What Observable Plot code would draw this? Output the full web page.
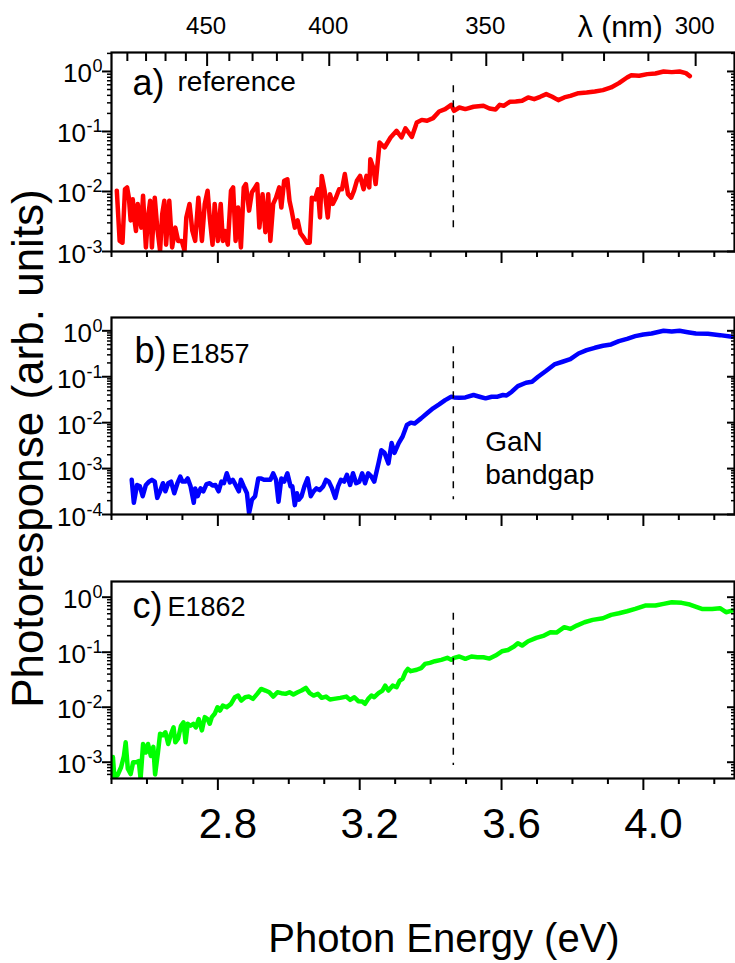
<!DOCTYPE html>
<html><head><meta charset="utf-8">
<script src="https://cdn.jsdelivr.net/npm/d3@7"></script>
<script src="https://cdn.jsdelivr.net/npm/@observablehq/plot@0.6"></script>
<style>
html,body{margin:0;padding:0;background:#fff;}
#chart{position:relative;width:735px;height:963px;overflow:hidden;background:#fff;}
</style></head>
<body><div id="chart"></div>
<script>
// ---------- data ----------
const energyA = [2.515,2.523,2.531,2.538,2.544,2.549,2.554,2.560,2.565,2.569,2.574,2.580,2.584,2.589,2.597,2.603,2.609,2.614,2.622,2.629,2.637,2.643,2.649,2.654,2.663,2.671,2.680,2.688,2.698,2.706,2.711,2.720,2.728,2.736,2.745,2.755,2.763,2.771,2.777,2.785,2.791,2.800,2.808,2.814,2.820,2.828,2.837,2.843,2.850,2.857,2.865,2.873,2.879,2.888,2.896,2.905,2.911,2.917,2.926,2.934,2.942,2.948,2.956,2.964,2.973,2.979,2.987,2.996,3.002,3.008,3.017,3.025,3.033,3.042,3.051,3.059,3.065,3.074,3.082,3.088,3.093,3.101,3.110,3.116,3.124,3.133,3.142,3.150,3.158,3.167,3.176,3.184,3.192,3.201,3.211,3.219,3.227,3.230,3.238,3.245,3.256,3.270,3.287,3.304,3.318,3.329,3.347,3.361,3.375,3.390,3.407,3.424,3.441,3.458,3.466,3.481,3.498,3.521,3.549,3.566,3.583,3.595,3.606,3.623,3.640,3.658,3.675,3.692,3.709,3.726,3.743,3.760,3.777,3.794,3.817,3.840,3.863,3.886,3.909,3.931,3.954,3.966,3.988,4.011,4.034,4.057,4.080,4.102,4.120,4.131];
const respA = [0.0103,0.0015,0.0014,0.0109,0.0117,0.0079,0.0033,0.0074,0.0033,0.0022,0.0062,0.0033,0.0025,0.0085,0.00117,0.0037,0.0070,0.00117,0.0079,0.0025,0.00103,0.0042,0.0070,0.0013,0.0070,0.00117,0.0025,0.0015,0.0015,0.00103,0.0037,0.0062,0.0022,0.0015,0.0079,0.0015,0.0062,0.0103,0.0037,0.0013,0.0062,0.0015,0.0062,0.0015,0.0022,0.0013,0.0103,0.0117,0.0015,0.0054,0.00117,0.0117,0.0133,0.0048,0.0097,0.0117,0.0133,0.0025,0.0090,0.0021,0.0090,0.0015,0.0062,0.0079,0.0117,0.0054,0.0151,0.0160,0.0070,0.0048,0.0025,0.0033,0.0020,0.0017,0.0014,0.0014,0.0079,0.0074,0.0109,0.0037,0.0182,0.0103,0.0037,0.0090,0.0062,0.0079,0.0109,0.0109,0.0195,0.0090,0.0079,0.0103,0.0151,0.0182,0.0109,0.0182,0.0117,0.0346,0.0251,0.0133,0.0656,0.0541,0.0794,0.1026,0.0794,0.113,0.081,0.141,0.156,0.151,0.167,0.215,0.236,0.278,0.221,0.251,0.236,0.258,0.268,0.242,0.232,0.278,0.268,0.312,0.316,0.325,0.369,0.346,0.378,0.419,0.378,0.333,0.369,0.393,0.435,0.446,0.464,0.489,0.541,0.639,0.794,0.868,0.847,0.903,0.926,1.0,0.975,1.0,0.938,0.836];

const energyB = [2.557,2.563,2.572,2.580,2.588,2.597,2.606,2.614,2.622,2.629,2.637,2.645,2.652,2.660,2.668,2.677,2.686,2.694,2.700,2.708,2.715,2.723,2.732,2.736,2.743,2.751,2.759,2.768,2.777,2.785,2.793,2.802,2.810,2.817,2.825,2.834,2.842,2.850,2.859,2.865,2.873,2.882,2.888,2.896,2.905,2.914,2.922,2.930,2.939,2.948,2.956,2.964,2.971,2.979,2.987,2.996,3.005,3.010,3.017,3.023,3.028,3.036,3.044,3.053,3.062,3.070,3.078,3.087,3.097,3.105,3.113,3.122,3.131,3.139,3.147,3.156,3.164,3.173,3.181,3.190,3.199,3.207,3.215,3.224,3.233,3.241,3.253,3.261,3.270,3.281,3.290,3.298,3.310,3.321,3.333,3.344,3.355,3.373,3.390,3.407,3.424,3.441,3.458,3.466,3.481,3.498,3.521,3.538,3.555,3.572,3.589,3.604,3.614,3.629,3.646,3.669,3.686,3.703,3.726,3.749,3.772,3.794,3.817,3.840,3.863,3.886,3.909,3.931,3.954,3.977,4.000,4.023,4.057,4.080,4.102,4.125,4.148,4.182,4.216,4.250];
const respB = [5.7e-4,1.8e-4,4.4e-4,4.1e-4,2.5e-4,4.4e-4,5.2e-4,5.7e-4,5.2e-4,2.3e-4,3.2e-4,4.8e-4,3.2e-4,4.8e-4,5.2e-4,2.9e-4,4.8e-4,6.7e-4,5.2e-4,5.2e-4,6.1e-4,4.1e-4,1.8e-4,3.7e-4,2.5e-4,3.7e-4,3.2e-4,4.6e-4,4.8e-4,4.3e-4,4.4e-4,3.2e-4,5.2e-4,4.8e-4,7.9e-4,5.0e-4,5.7e-4,4.4e-4,3.2e-4,5.7e-4,4.1e-4,2.9e-4,1.07e-4,2.1e-4,2.5e-4,6.1e-4,6.1e-4,5.7e-4,5.7e-4,5.7e-4,7.9e-4,5.7e-4,1.9e-4,6.1e-4,5.2e-4,7.9e-4,4.1e-4,4.1e-4,1.6e-4,2.9e-4,2.1e-4,2.5e-4,4.1e-4,6.1e-4,2.5e-4,3.2e-4,3.7e-4,3.4e-4,4.1e-4,5.7e-4,5.2e-4,3.7e-4,2.3e-4,4.1e-4,5.7e-4,5.2e-4,7.3e-4,4.4e-4,7.9e-4,4.8e-4,5.2e-4,7.9e-4,4.8e-4,7.9e-4,6.7e-4,5.2e-4,1.3e-3,2.5e-3,2.2e-3,1.3e-3,3.6e-3,2.2e-3,3.6e-3,5.0e-3,8.9e-3,0.010,0.0096,0.0124,0.016,0.0205,0.025,0.031,0.0367,0.0355,0.035,0.0355,0.040,0.0367,0.0338,0.0367,0.0367,0.040,0.039,0.0472,0.0627,0.074,0.078,0.1,0.135,0.185,0.212,0.242,0.321,0.38,0.427,0.472,0.505,0.596,0.67,0.766,0.832,0.875,1.0,0.97,1.0,0.935,0.875,0.86,0.805,0.74];

const energyC = [2.504,2.508,2.517,2.527,2.535,2.540,2.546,2.554,2.561,2.569,2.577,2.582,2.589,2.597,2.603,2.611,2.618,2.623,2.631,2.637,2.645,2.652,2.660,2.668,2.675,2.680,2.688,2.696,2.703,2.709,2.715,2.723,2.731,2.738,2.746,2.755,2.763,2.771,2.777,2.783,2.791,2.799,2.806,2.814,2.825,2.837,2.848,2.857,2.866,2.877,2.888,2.899,2.911,2.922,2.934,2.945,2.956,2.968,2.979,2.991,3.002,3.013,3.025,3.036,3.048,3.059,3.070,3.082,3.093,3.105,3.116,3.127,3.145,3.162,3.173,3.185,3.196,3.207,3.215,3.224,3.233,3.241,3.253,3.264,3.272,3.281,3.293,3.304,3.313,3.321,3.329,3.336,3.344,3.361,3.373,3.384,3.398,3.412,3.430,3.447,3.458,3.466,3.481,3.498,3.515,3.532,3.549,3.566,3.583,3.601,3.618,3.635,3.646,3.658,3.675,3.698,3.720,3.738,3.755,3.777,3.794,3.812,3.834,3.857,3.886,3.909,3.931,3.954,3.977,4.005,4.034,4.057,4.080,4.108,4.131,4.165,4.194,4.216,4.233,4.250];
const respC = [1.24e-3,5.4e-4,5.8e-4,8.1e-4,1.3e-3,2.3e-3,7.6e-4,6.1e-4,1.0e-3,1.0e-3,1.05e-3,5.0e-4,2.15e-3,1.5e-3,2.15e-3,1.3e-3,1.9e-3,6.0e-4,1.5e-3,3.3e-3,3.1e-3,3.5e-3,2.15e-3,3.3e-3,4.3e-3,2.3e-3,2.7e-3,4.6e-3,5.3e-3,2.3e-3,5.0e-3,4.6e-3,5.0e-3,4.3e-3,6.1e-3,3.8e-3,6.6e-3,6.1e-3,5.0e-3,6.6e-3,7.6e-3,0.010,8.7e-3,0.0107,0.010,0.0115,0.0152,0.0163,0.0132,0.0152,0.0156,0.0142,0.0175,0.0215,0.0201,0.0187,0.0156,0.0187,0.018,0.0175,0.0187,0.0170,0.0187,0.0201,0.0224,0.018,0.0163,0.0175,0.0148,0.0156,0.0138,0.0142,0.0148,0.0156,0.0136,0.0152,0.0129,0.0127,0.0115,0.0142,0.0163,0.0152,0.018,0.0201,0.0247,0.0201,0.0247,0.0231,0.0305,0.0329,0.0434,0.0497,0.0452,0.048,0.0513,0.0613,0.064,0.0686,0.0727,0.079,0.0727,0.079,0.0835,0.0757,0.0835,0.081,0.081,0.0765,0.087,0.104,0.11,0.127,0.146,0.132,0.158,0.182,0.201,0.231,0.228,0.285,0.265,0.305,0.351,0.387,0.415,0.477,0.512,0.556,0.613,0.705,0.705,0.757,0.811,0.789,0.736,0.613,0.613,0.631,0.533,0.572];

// axes / ticks / labels
const energyDomain = [2.5, 4.257];
const energyMinorTicks = [2.5,2.6,2.7,2.9,3.0,3.1,3.3,3.4,3.5,3.7,3.8,3.9,4.1,4.2];
const energyMajorTicks = [2.8,3.2,3.6,4.0];
const energyTickLabels = ["2.8","3.2","3.6","4.0"];
const HC = 1240; // eV·nm
const wavelengthTicks = [490,480,470,460,450,440,430,420,410,400,390,380,370,360,350,340,330,320,310,300];
const wavelengthLabels = [450,400,350,300];
const wavelengthTitle = "λ (nm)";
const wavelengthTitleEnergy = 3.935;
const yTicksA = [1e-3,1e-2,1e-1,1];
const yTicksB = [1e-4,1e-3,1e-2,1e-1,1];
const yTicksC = [1e-3,1e-2,1e-1,1];
const bandgapEnergy = 3.464;
const bandgapSpanA = [0.58, 0.002];
const bandgapSpanB = [0.45, 2.1e-4];
const bandgapSpanC = [0.51, 8.7e-4];
const bandgapLabelEnergy = 3.554;
const panelTags = ["a)","b)","c)"];
const panelNames = ["reference","E1857","E1862"];
const xTitle = "Photon Energy (eV)";
const yTitle = "Photoresponse (arb. units)";

const FONT = "'Liberation Sans', Arial, Helvetica, sans-serif";
const EXP_SIZE = 18;
function exponentOf(v){ return String(Math.round(Math.log10(v))); }
function exponentWidth(s){ return s.split("").reduce((w,c) => w + (c === "-" ? 0.333 : 0.556), 0) * EXP_SIZE; }
function minorTicks(domain){ const out=[]; for(let p=-5;p<=0;p++) for(let k=2;k<=9;k++){ const v=k*Math.pow(10,p); if(v>domain[0]*1.0001 && v<domain[1]) out.push(v);} return out; }

function yLabelMarks(ticks){
  return ticks.flatMap(t => {
    const e = exponentOf(t);
    return [
      Plot.text([t], {y:d=>d, text:()=>"10", frameAnchor:"left", textAnchor:"end", lineAnchor:"bottom", dx:-9.5 - exponentWidth(e), dy:11, fontSize:26, fill:"black"}),
      Plot.text([t], {y:d=>d, text:()=>e, frameAnchor:"left", textAnchor:"end", lineAnchor:"bottom", dx:-9, dy:1, fontSize:EXP_SIZE, fill:"black"})
    ];
  });
}

function panel(cfg){
  const data = cfg.energy.map((e,i) => ({e, v: cfg.resp[i]}));
  const tickOpts = {stroke:"black", fill:"none", label:null};
  const marks = [
    Plot.line(data, {x:"e", y:"v", stroke:cfg.color, strokeWidth:4.5, strokeLinejoin:"round", strokeLinecap:"round", clip:true}),
    Plot.ruleX([bandgapEnergy], {x:d=>d, y1:cfg.span[0], y2:cfg.span[1], stroke:"black", strokeWidth:1.5, strokeDasharray:"7,8"}),
    Plot.axisY(cfg.yTicks, {...tickOpts, anchor:"left", tickSize:9, strokeWidth:2}),
    Plot.axisY(minorTicks(cfg.yDomain), {...tickOpts, anchor:"left", tickSize:4, strokeWidth:1.5}),
    Plot.axisY(cfg.yTicks, {...tickOpts, anchor:"right", tickSize:8, dx:-8, strokeWidth:2}),
    Plot.axisY(minorTicks(cfg.yDomain), {...tickOpts, anchor:"right", tickSize:4, dx:-4, strokeWidth:1.5}),
    ...yLabelMarks(cfg.yTicks),
    Plot.axisX(energyMinorTicks, {...tickOpts, anchor:"bottom", tickSize:6, strokeWidth:2}),
    Plot.axisX(energyMajorTicks, {...tickOpts, anchor:"bottom", tickSize:12, strokeWidth:2}),
    Plot.frame({stroke:"black", strokeWidth:2.2}),
    Plot.text([cfg.tag], {text:d=>d, frameAnchor:"top-left", textAnchor:"start", lineAnchor:"bottom", dx:cfg.tagDx, dy:cfg.tagDy, fontSize:36, fill:"black"}),
    Plot.text([cfg.name], {text:d=>d, frameAnchor:"top-left", textAnchor:"start", lineAnchor:"bottom", dx:cfg.nameDx, dy:cfg.nameDy, fontSize:cfg.nameSize, fill:"black"}),
    ...(cfg.extra || [])
  ];
  const svg = Plot.plot({
    width:735, height:cfg.height,
    marginLeft:111, marginRight:1, marginTop:cfg.mt, marginBottom:cfg.mb,
    x:{type:"linear", domain:energyDomain},
    y:{type:"log", domain:cfg.yDomain},
    style:{fontFamily:FONT, background:"transparent", color:"black", overflow:"visible"},
    marks
  });
  svg.style.position = "absolute";
  svg.style.left = "0px";
  svg.style.top = cfg.top + "px";
  return svg;
}

const chart = document.getElementById("chart");
const wlTickOpts = {stroke:"black", fill:"none", label:null, anchor:"top", dx:5, strokeWidth:2};

chart.appendChild(panel({
  top:0, height:300, mt:52, mb:49, yDomain:[1e-3, 2.07], yTicks:yTicksA,
  energy:energyA, resp:respA, color:"#ff0000", span:bandgapSpanA,
  tag:panelTags[0], tagDx:21, tagDy:42, name:panelNames[0], nameDx:66, nameDy:38, nameSize:28,
  extra:[
    Plot.axisX(wavelengthTicks.filter(l => !wavelengthLabels.includes(l)).map(l => HC/l), {...wlTickOpts, tickSize:8, dy:8}),
    Plot.axisX(wavelengthLabels.map(l => HC/l), {...wlTickOpts, tickSize:13, dy:13}),
    Plot.text(wavelengthLabels, {x:l => HC/l, text:l => String(l), frameAnchor:"top", lineAnchor:"bottom", dy:-19, dx:4, fontSize:24, fill:"black"}),
    Plot.text([wavelengthTitle], {x:wavelengthTitleEnergy, text:d=>d, frameAnchor:"top", lineAnchor:"bottom", dy:-16, fontSize:30, fill:"black"})
  ]
}));

chart.appendChild(panel({
  top:290, height:240, mt:27, mb:16, yDomain:[1e-4, 1.95], yTicks:yTicksB,
  energy:energyB, resp:respB, color:"#0000ff", span:bandgapSpanB,
  tag:panelTags[1], tagDx:23, tagDy:45, name:panelNames[1], nameDx:60, nameDy:45, nameSize:27,
  extra:[
    Plot.text(["GaN"], {x:bandgapLabelEnergy, text:d=>d, frameAnchor:"top", textAnchor:"start", lineAnchor:"bottom", dy:133, fontSize:28, fill:"black"}),
    Plot.text(["bandgap"], {x:bandgapLabelEnergy, text:d=>d, frameAnchor:"top", textAnchor:"start", lineAnchor:"bottom", dy:166, fontSize:28, fill:"black"})
  ]
}));

chart.appendChild(panel({
  top:560, height:300, mt:21, mb:82, yDomain:[5.06e-4, 1.93], yTicks:yTicksC,
  energy:energyC, resp:respC, color:"#00ff00", span:bandgapSpanC,
  tag:panelTags[2], tagDx:21, tagDy:36, name:panelNames[2], nameDx:56, nameDy:34, nameSize:27,
  extra:[
    Plot.text(energyMajorTicks, {x:d=>d, text:(d,i)=>energyTickLabels[i], frameAnchor:"bottom", lineAnchor:"bottom", dy:59, dx:10, fontSize:42, fill:"black"})
  ]
}));

// axis titles
const ov = d3.create("svg").attr("width",735).attr("height",963)
  .style("position","absolute").style("left","0px").style("top","0px").style("font-family",FONT);
ov.append("text").attr("transform","translate(43,448.5) rotate(-90)").attr("text-anchor","middle").attr("font-size",44).attr("fill","black").text(yTitle);
ov.append("text").attr("x",444).attr("y",952).attr("text-anchor","middle").attr("font-size",40).attr("fill","black").text(xTitle);
chart.appendChild(ov.node());
</script>
</body></html>
